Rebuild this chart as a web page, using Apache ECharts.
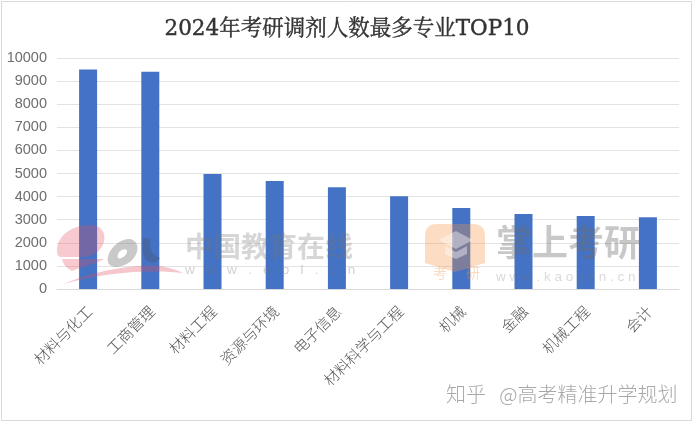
<!DOCTYPE html>
<html>
<head>
<meta charset="utf-8">
<style>
  html, body { margin: 0; padding: 0; background: #fff; }
  #chart { width: 693px; height: 422px; }
</style>
<script src="https://cdn.jsdelivr.net/npm/echarts@6/dist/echarts.min.js"></script>
</head>
<body>
<div id="chart"></div>
<script>
const categories = ['材料与化工', '工商管理', '材料工程', '资源与环境', '电子信息', '材料科学与工程', '机械', '金融', '机械工程', '会计'];
const values = [9500, 9400, 4980, 4680, 4400, 4020, 3510, 3250, 3160, 3110];
const yTicks = { min: 0, max: 10000, interval: 1000 };

// watermark outlines
const logoPaths = {
  eolTop: 'M57 252 C56 236 72 225 90 225 C102 225 106 233 104 242 C101 252 92 256 84 257 L60 257 C58 256 57 254 57 252 Z',
  eolBottom: 'M62 259 L104 259 C96 264 84 266 72 271 C66 268 63 264 62 259 Z',
  eolO: 'M108 262 C106 250 120 238 130 239 C140 241 140 254 130 262 C122 268 110 269 108 262 Z M118 258 C122 260 128 254 127 250 C123 247 116 253 118 258 Z',
  eolL: 'M143 238 L150 239 C150 250 152 256 160 258 C158 263 150 264 146 260 C142 254 142 246 143 238 Z',
  eolSwoosh: 'M64 284 C90 272 130 264 160 266 C170 268 178 270 183 273 C160 270 110 270 64 284 Z',
  kyBadge: 'M425 236 Q425 224 437 224 L473 224 Q485 224 485 236 L485 263 L455 272 L425 263 Z',
  kyCap: 'M456 231 L473 240 L456 249 L439 240 Z M445 246 L456 252 L467 246 L467 254 L456 259 L445 254 Z'
};
Object.keys(logoPaths).forEach(function (name) {
  echarts.graphic.registerShape(name, echarts.graphic.extendPath(logoPaths[name], {}));
});

const myChart = echarts.init(document.getElementById('chart'));
const cjk = '"Noto Sans CJK SC", sans-serif';

const option = {
  animation: false,
  backgroundColor: '#fff',
  title: {
    text: '2024年考研调剂人数最多专业TOP10',
    left: 342,
    top: 14,
    textAlign: 'center',
    textStyle: { fontFamily: '"DejaVu Serif", "Noto Serif CJK SC", "Noto Sans CJK SC", serif', fontSize: 21.5, fontWeight: 'normal', color: '#333', textBorderColor: '#333', textBorderWidth: 0.4 }
  },
  grid: { left: 57, right: 14, top: 58, bottom: 133 },
  xAxis: {
    type: 'category',
    data: categories,
    axisTick: { show: false },
    axisLine: { lineStyle: { color: '#d9d9d9', width: 1 } },
    axisLabel: { rotate: 45, interval: 0, margin: 21, padding: [0, -2, 0, 0], fontFamily: cjk, fontSize: 15, fontWeight: 300, color: '#555' }
  },
  yAxis: {
    type: 'value',
    min: yTicks.min,
    max: yTicks.max,
    interval: yTicks.interval,
    axisLine: { show: false },
    axisTick: { show: false },
    splitLine: { lineStyle: { color: '#e3e3e3', width: 1 } },
    axisLabel: { margin: 10, formatter: function (v) { return String(v); }, fontFamily: '"Liberation Sans", sans-serif', fontSize: 14.5, color: '#6e6e6e' }
  },
  series: [{
    type: 'bar',
    data: values,
    barWidth: 18,
    itemStyle: { color: '#4472c4' }
  }],
  graphic: [
    { type: 'rect', silent: true, z: -1, shape: { x: 1.5, y: 1.5, width: 690, height: 419 }, style: { fill: 'none', stroke: '#d9d9d9', lineWidth: 1 } },
    // eol logo
    { type: 'eolTop', silent: true, z: 20, style: { fill: 'rgba(225,80,95,0.30)' } },
    { type: 'eolBottom', silent: true, z: 20, style: { fill: 'rgba(225,80,95,0.30)' } },
    { type: 'eolO', silent: true, z: 20, style: { fill: 'rgba(120,120,120,0.40)' } },
    { type: 'eolL', silent: true, z: 20, style: { fill: 'rgba(70,90,130,0.45)' } },
    { type: 'eolSwoosh', silent: true, z: 20, style: { fill: 'rgba(225,80,95,0.32)' } },
    { type: 'text', silent: true, z: 20, style: { x: 185, y: 232, text: '中国教育在线', fontFamily: cjk, fontSize: 28, fontWeight: 'bold', fill: 'rgba(120,120,120,0.30)' } },
    { type: 'text', silent: true, z: 20, style: { x: 185, y: 263, text: 'w   w   w   .   e   o   l   .   c   n', fontFamily: '"Liberation Sans", sans-serif', fontSize: 13.5, fill: 'rgba(120,120,120,0.35)' } },
    // kaoyan logo
    { type: 'kyBadge', silent: true, z: 20, style: { fill: 'rgba(245,150,70,0.32)' } },
    { type: 'kyCap', silent: true, z: 20, style: { fill: 'rgba(255,255,255,0.4)' } },
    { type: 'text', silent: true, z: 20, style: { x: 433, y: 266, text: '考', fontFamily: cjk, fontSize: 14, fill: 'rgba(245,150,70,0.35)' } },
    { type: 'text', silent: true, z: 20, style: { x: 466, y: 266, text: '研', fontFamily: cjk, fontSize: 14, fill: 'rgba(245,150,70,0.35)' } },
    { type: 'text', silent: true, z: 20, style: { x: 496, y: 224, text: '掌上考研', fontFamily: cjk, fontSize: 36, fontWeight: 'bold', fill: 'rgba(110,110,110,0.38)' } },
    { type: 'text', silent: true, z: 20, style: { x: 496, y: 270, text: 'w w w . k a o y a n . c n', fontFamily: '"Liberation Sans", sans-serif', fontSize: 13.5, fill: 'rgba(120,120,120,0.28)' } },
    // zhihu credit
    { type: 'text', silent: true, z: 20, style: { x: 446, y: 384, text: '知乎   @高考精准升学规划', fontFamily: cjk, fontSize: 20, fontWeight: 300, fill: '#a8a8a8' } }
  ]
};

myChart.setOption(option);
</script>
</body>
</html>
